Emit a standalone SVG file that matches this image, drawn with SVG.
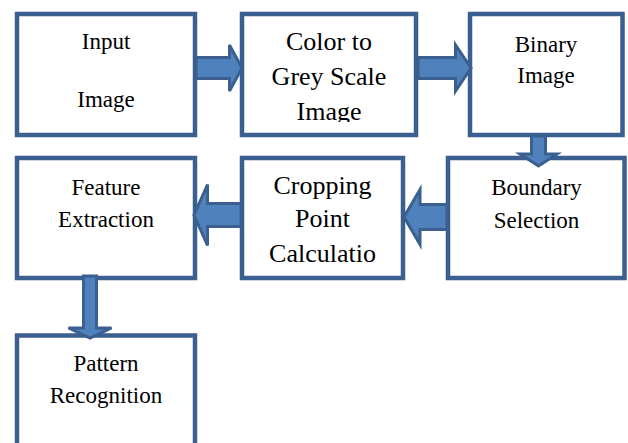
<svg xmlns="http://www.w3.org/2000/svg" width="628" height="443" viewBox="0 0 628 443">
<style>
.box{fill:#fff;stroke:#3b5f8e;stroke-width:4.5}
.arr{fill:#4f81bd;stroke:#3b5f8e;stroke-width:3;stroke-linejoin:miter}
.t{font-size:23px;fill:#000;text-anchor:middle}
.tl{font-size:26px}
</style>
<defs>
<clipPath id="c2"><rect x="244" y="16" width="170" height="106"/></clipPath>
</defs>
<rect width="628" height="443" fill="#fff"/>
<g font-family="Liberation Serif, Times New Roman, Times, Tinos, Noto Serif, DejaVu Serif, serif">
<g id="n1"><rect class="box" x="17" y="14" width="178" height="121"/>
<text class="t" x="106" y="49">Input</text><text class="t" x="106" y="107">Image</text></g>
<g id="n2"><rect class="box" x="242" y="14" width="174" height="121"/>
<g clip-path="url(#c2)"><text class="t tl" x="329" y="50">Color to</text><text class="t tl" x="329" y="85">Grey Scale</text><text class="t tl" x="329" y="120">Image</text></g></g>
<g id="n3"><rect class="box" x="470" y="14" width="152.5" height="121"/>
<text class="t" x="546" y="52">Binary</text><text class="t" x="546" y="83">Image</text></g>
<g id="n4"><rect class="box" x="17" y="158" width="178" height="120"/>
<text class="t" x="106" y="195">Feature</text><text class="t" x="106" y="227">Extraction</text></g>
<g id="n5"><rect class="box" x="242" y="158" width="161" height="120"/>
<text class="t tl" x="322.5" y="194">Cropping</text><text class="t tl" x="322.5" y="227">Point</text><text class="t tl" x="322.5" y="262">Calculatio</text></g>
<g id="n6"><rect class="box" x="448" y="158" width="176.5" height="120"/>
<text class="t" x="536.5" y="195">Boundary</text><text class="t" x="536.5" y="228">Selection</text></g>
<g id="n7"><rect class="box" x="17" y="335.5" width="178" height="130"/>
<text class="t" x="106" y="371">Pattern</text><text class="t" x="106" y="403">Recognition</text></g>
</g>
<g id="connectors">
<polygon class="arr" points="196,57.5 229.5,57.5 229.5,45 242,68 229.5,91 229.5,78.5 196,78.5"/>
<polygon class="arr" points="418,57.5 455.5,57.5 455.5,45 471,68 455.5,91 455.5,78.5 418,78.5"/>
<polygon class="arr" points="531.5,136 545.5,136 545.5,154 557,154 538.5,166 520,154 531.5,154"/>
<polygon class="arr" points="447,204.5 420,204.5 420,189.5 404,217 420,244.5 420,229.5 447,229.5"/>
<polygon class="arr" points="241,203.5 207.5,203.5 207.5,184.5 194,215 207.5,245.5 207.5,226.5 241,226.5"/>
<polygon class="arr" points="83.5,276 96.5,276 96.5,328 111.5,328 90,338 68.5,328 83.5,328"/>
</g>
</svg>
